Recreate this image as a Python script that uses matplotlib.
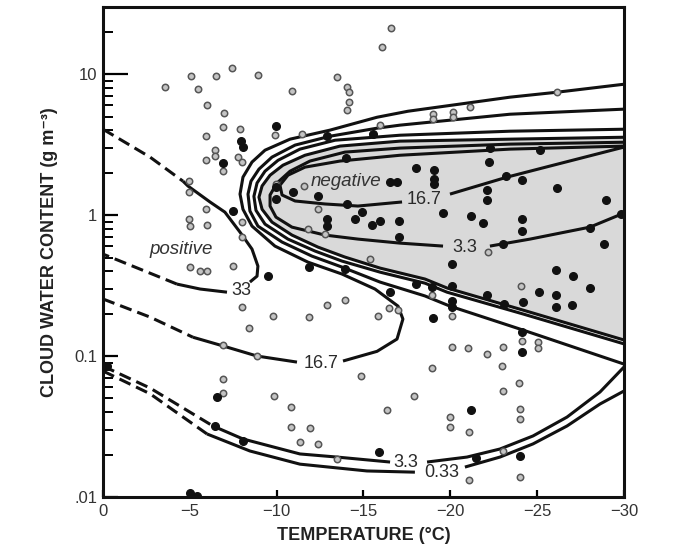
import matplotlib
matplotlib.use('Agg')
import matplotlib.pyplot as plt
import numpy as np
from matplotlib.ticker import FixedLocator, FixedFormatter, LogLocator, NullFormatter

nan = np.nan

# ---- axis ticks ----
temp_ticks = [0, -5, -10, -15, -20, -25, -30]
lwc_ticks = [0.01, 0.1, 1, 10]
lwc_tick_labels = ['.01', '0.1', '1', '10']

# ---- positive 33 contour (closes against the 0 C edge) ----
pos33_dash_hi_t = [0, -2.71, -4.61]
pos33_dash_hi_w = [4.07, 2.58, 1.74]
pos33_t = [-4.61, -4.89, -6.16, -7.02, -7.89, -8.58, -8.92, -8.87, -8.46, nan, -7.14, -5.59, -4.26]
pos33_w = [1.74, 1.61, 1.24, 1.05, 0.757, 0.574, 0.435, 0.369, 0.335, nan, 0.284, 0.299, 0.324]
pos33_dash_lo_t = [-4.26, -2.13, 0]
pos33_dash_lo_w = [0.324, 0.414, 0.529]

# ---- positive 16.7 contour (nose near -17 C, then wraps round the negative zone) ----
pos16_dash_t = [0, -2.71, -5.18]
pos16_dash_w = [0.254, 0.189, 0.136]
pos16_t = [-5.18, -6.91, -8.87, -11.17, nan, -13.82, -15.78, -16.93, -17.27, -16.99, -15.66,
           -13.76, -11.80, -9.90, -8.58, -8.06, -7.89, -8.06, -8.58, -9.33, -10.77, -13.07,
           -15.78, -17.56, -23.43, -26.14, -30]
pos16_w = [0.136, 0.118, 0.100, 0.0906, nan, 0.0922, 0.108, 0.132, 0.183, 0.226, 0.299,
           0.382, 0.464, 0.603, 0.836, 1.10, 1.41, 1.86, 2.38, 2.89, 3.46, 4.01,
           4.95, 5.46, 6.87, 7.45, 8.49]

# ---- inner band of curves round the negative zone ----
band3_t = [-30, -24.18, -19.98, -18.54, -15.95, -13.76, -12.03, -10.31, -8.92, -8.46, -8.35,
           -8.52, -8.98, -9.73, -11.06, -13.07, -15.78, -17.10, -23.43, -30]
band3_w = [0.0877, 0.153, 0.226, 0.267, 0.335, 0.428, 0.512, 0.644, 0.836, 1.07, 1.41,
           1.74, 2.12, 2.58, 3.14, 3.63, 4.14, 4.35, 5.20, 5.65]

band033_t = [-30, -24.18, -19.81, -18.54, -15.95, -13.76, -12.21, -10.65, -9.33, -8.81, -8.69,
             -8.87, -9.33, -10.08, -11.34, -13.36, -17.10, -23.43, -30]
band033_w = [0.122, 0.199, 0.284, 0.329, 0.394, 0.472, 0.556, 0.676, 0.863, 1.08, 1.36,
             1.69, 2.05, 2.45, 2.94, 3.40, 3.69, 3.94, 4.07]

zero_t = [-30, -24.18, -19.81, -18.54, -15.95, -13.93, -12.38, -10.88, -9.73, -9.16, -8.98,
          -9.16, -9.62, -10.36, -11.63, -13.65, -17.10, -23.43, -30]
zero_w = [0.130, 0.212, 0.304, 0.352, 0.421, 0.504, 0.593, 0.722, 0.892, 1.10, 1.34,
          1.61, 1.92, 2.26, 2.66, 3.09, 3.35, 3.46, 3.57]

neg3_t = [-30, -23.43, -17.10, -13.93, -11.92, -10.77, -10.02, -9.62, -9.62, -9.96, -10.88,
          -12.78, -14.68, -17.10, -19.58, nan, -22.28, -24.59, -28.04, -29.88]
neg3_w = [3.29, 3.19, 2.99, 2.80, 2.42, 2.05, 1.69, 1.39, 1.16, 0.968, 0.822,
          0.722, 0.676, 0.633, 0.603, nan, 0.603, 0.676, 0.822, 1.02]

neg16_t = [-30, -23.43, -17.10, -13.65, -11.63, -10.65, -10.19, -10.31, -11.06, -12.78, -14.68,
           -17.22, nan, -19.98, -23.26, -25.74, -30]
neg16_w = [3.09, 2.94, 2.66, 2.42, 2.19, 1.92, 1.63, 1.39, 1.26, 1.20, 1.16,
           1.24, nan, 1.41, 1.86, 2.23, 3.04]

# ---- low water content positive contours ----
low3_dash_t = [0, -2.71, -6.33]
low3_dash_w = [0.0849, 0.0593, 0.0319]
low3_t = [-6.33, -8.06, -11.34, -13.47, -16.53, nan, -18.66, -20.96, -22.86, -24.76, -26.72, -28.62, -30]
low3_w = [0.0319, 0.0258, 0.0202, 0.0192, 0.0177, nan, 0.0177, 0.0192, 0.0219, 0.0271, 0.0369, 0.0556, 0.0836]

low033_dash_t = [0, -2.71, -5.99]
low033_dash_w = [0.0783, 0.054, 0.0280]
low033_t = [-5.99, -8.46, -11.34, -15.20, -17.96, nan, -20.84, -22.86, -24.76, -26.72, -28.62, -30]
low033_w = [0.0280, 0.0212, 0.0171, 0.0153, 0.0150, nan, 0.0163, 0.0192, 0.0238, 0.0319, 0.0457, 0.0565]

# ---- contour labels: text, temperature, water content ----
contour_labels = ['33', '16.7', '3.3', '0.33', '16.7', '3.3']
contour_label_t = [-7.95, -12.55, -17.45, -19.52, -18.48, -20.84]
contour_label_w = [0.294, 0.089, 0.0177, 0.0150, 1.30, 0.593]

# ---- observations: open = positive, filled = negative ----
open_t = [-3.57, -5.07, -6.51, -7.43, -8.92, -5.47, -10.88, -13.47, -14.05, -14.16, -14.16, -14.05,
          -5.99, -6.97, -6.91, -7.89, -9.90, -11.46, -5.93, -6.45, -6.45, -5.93, -7.77, -8.00,
          -6.91, -4.95, -4.95, -5.93, -4.95, -5.01, -5.99, -8.00, -8.00, -16.06, -16.58, -26.14,
          -19.00, -19.00, -20.15, -20.15, -21.13, -15.95, -9.96, -11.57, -11.80, -12.78, -12.38,
          -22.17, -24.07, -18.94, -20.10, -16.47, -16.99, -15.83, -24.13, -25.05, -25.05,
          -20.10, -21.02, -22.11, -23.03, -18.94, -22.97, -14.86, -23.95, -23.03, -17.91,
          -16.35, -24.01, -24.01, -19.98, -19.98, -21.07, -11.92, -12.38, -13.47, -23.03,
          -21.07, -24.01, -8.00, -9.79, -11.86, -12.90, -13.93, -8.41, -6.91, -8.87, -6.91,
          -6.91, -9.85, -10.83, -10.83, -11.34, -5.01, -5.59, -5.99, -7.49, -15.37]
open_w = [8.09, 9.68, 9.68, 11.0, 9.84, 7.83, 7.57, 9.52, 8.09, 7.45, 6.33, 5.55,
          6.03, 5.29, 4.21, 4.07, 3.69, 3.75, 3.63, 2.89, 2.62, 2.45, 2.58, 2.38,
          2.05, 1.74, 1.46, 1.10, 0.937, 0.836, 0.849, 0.892, 0.698, 15.5, 21.2, 7.45,
          5.20, 4.80, 5.38, 4.95, 5.83, 4.35, 1.66, 1.61, 0.796, 0.733, 1.10,
          0.547, 0.314, 0.271, 0.192, 0.219, 0.212, 0.192, 0.128, 0.126, 0.114,
          0.116, 0.114, 0.103, 0.116, 0.0822, 0.0849, 0.0722, 0.0644, 0.0565, 0.0520,
          0.0414, 0.0421, 0.0357, 0.0369, 0.0314, 0.0289, 0.0309, 0.0238, 0.0186, 0.0212,
          0.0132, 0.0139, 0.223, 0.192, 0.189, 0.230, 0.250, 0.158, 0.120, 0.100, 0.0687,
          0.0547, 0.0520, 0.0435, 0.0314, 0.0246, 0.428, 0.401, 0.401, 0.435, 0.488]

filled_t = [-9.96, -7.95, -8.06, -6.91, -7.49, -12.90, -15.55, -13.99, -10.94, -9.96, -9.96,
            -12.38, -14.05, -14.91, -14.51, -15.49, -15.95, -17.04, -12.90, -12.90, -17.04,
            -16.53, -16.93, -18.02, -19.06, -19.06, -19.06, -22.28, -25.16, -22.23, -23.20,
            -24.13, -22.11, -22.11, -26.14, -28.96, -19.58, -21.19, -21.88, -24.13, -24.13,
            -29.83, -28.04, -28.85, -23.03, -20.10, -20.10, -26.08, -27.06, -28.04, -25.10,
            -26.08, -22.11, -23.09, -24.18, -26.08, -27.01, -18.02, -18.94, -20.10, -20.10,
            -19.00, -24.13, -24.13, -21.19, -15.89, -21.48, -24.01, -6.56, -6.45, -8.06,
            -5.01, -5.41, -9.50, -11.86, -13.93, -16.53, -0.23]
filled_w = [4.28, 3.35, 3.04, 2.34, 1.07, 3.63, 3.75, 2.54, 1.46, 1.58, 1.30,
            1.36, 1.20, 1.05, 0.937, 0.849, 0.906, 0.906, 0.937, 0.836, 0.698,
            1.71, 1.71, 2.15, 2.08, 1.80, 1.66, 2.99, 2.89, 2.38, 1.89,
            1.77, 1.50, 1.28, 1.55, 1.28, 1.03, 0.984, 0.878, 0.937, 0.770,
            1.02, 0.809, 0.623, 0.623, 0.449, 0.314, 0.407, 0.369, 0.304, 0.284,
            0.271, 0.271, 0.234, 0.242, 0.223, 0.230, 0.324, 0.309, 0.245, 0.223,
            0.186, 0.148, 0.107, 0.0414, 0.0209, 0.0189, 0.0195, 0.0512, 0.0319, 0.0250,
            0.0107, 0.0102, 0.369, 0.428, 0.414, 0.284, 0.0849]


LINE_KW = dict(color='#111111', lw=2.2, solid_capstyle='butt', zorder=3)


def draw_curve(ax, t, w, dashed=False):
	if dashed:
		ax.plot(t, w, dashes=(4, 2), **LINE_KW)
	else:
		ax.plot(t, w, **LINE_KW)


def main():
	plt.rcParams['font.family'] = ['Liberation Sans', 'DejaVu Sans']

	fig = plt.figure(figsize=(6.83, 5.53), dpi=100, facecolor='white')
	ax = fig.add_axes([0.1508, 0.1013, 0.7628, 0.8861])

	ax.set_yscale('log')
	ax.set_xlim(0, -30)
	ax.set_ylim(0.01, 30)

	#
	# shaded negative zone, bounded by the zero line and the -30 C edge
	#
	ax.fill(zero_t, zero_w, facecolor='#d9d9d9', edgecolor='none', zorder=1)

	#
	# contours
	#
	draw_curve(ax, pos33_dash_hi_t, pos33_dash_hi_w, dashed=True)
	draw_curve(ax, pos33_t, pos33_w)
	draw_curve(ax, pos33_dash_lo_t, pos33_dash_lo_w, dashed=True)

	draw_curve(ax, pos16_dash_t, pos16_dash_w, dashed=True)
	draw_curve(ax, pos16_t, pos16_w)

	for t, w in [(band3_t, band3_w), (band033_t, band033_w), (zero_t, zero_w),
				 (neg3_t, neg3_w), (neg16_t, neg16_w)]:
		draw_curve(ax, t, w)

	draw_curve(ax, low3_dash_t, low3_dash_w, dashed=True)
	draw_curve(ax, low3_t, low3_w)
	draw_curve(ax, low033_dash_t, low033_dash_w, dashed=True)
	draw_curve(ax, low033_t, low033_w)

	for s, t, w in zip(contour_labels, contour_label_t, contour_label_w):
		ax.text(t, w, s, fontsize=13, color='#2a2a2a', ha='center', va='center', zorder=5)

	ax.text(-13.99, 1.74, 'negative', fontsize=13.5, style='italic', color='#333333',
			ha='center', va='center', zorder=5)
	ax.text(-4.52, 0.574, 'positive', fontsize=13.5, style='italic', color='#333333',
			ha='center', va='center', zorder=5)

	#
	# observations
	#
	ax.plot(open_t, open_w, 'o', ls='none', ms=4.6, mfc='#c4c4c4', mec='#555555', mew=1.1, zorder=4)
	ax.plot(filled_t, filled_w, 'o', ls='none', ms=5.5, color='#111111', zorder=4)

	#
	# axes dressing
	#
	for side in ['left', 'right', 'top', 'bottom']:
		ax.spines[side].set_linewidth(2.2)
		ax.spines[side].set_color('#111111')

	ax.xaxis.set_major_locator(FixedLocator(temp_ticks))
	ax.yaxis.set_major_locator(FixedLocator(lwc_ticks))
	ax.yaxis.set_major_formatter(FixedFormatter(lwc_tick_labels))
	ax.yaxis.set_minor_locator(LogLocator(base=10, subs=np.arange(2, 10)))
	ax.yaxis.set_minor_formatter(NullFormatter())

	ax.tick_params(axis='x', which='major', direction='in', length=5, width=1.6, pad=5,
				   labelsize=12, labelcolor='#333333', top=False)
	ax.tick_params(axis='y', which='major', direction='in', length=11, width=1.6, pad=4,
				   labelsize=12, labelcolor='#333333', right=False)
	ax.tick_params(axis='y', which='minor', direction='in', length=7, width=1.4, right=False)

	# the tick at 10 runs further into the plot in the original
	ax.yaxis.get_major_ticks()[3].tick1line.set_markersize(18)

	ax.set_xlabel('TEMPERATURE (°C)', fontsize=13, fontweight='bold', color='#222222', labelpad=6)
	ax.set_ylabel('CLOUD WATER CONTENT (g m⁻³)', fontsize=13, fontweight='bold', color='#222222',
				  labelpad=12)

	fig.savefig('out.png', dpi=100, facecolor='white')


if __name__ == "__main__":
	main()
